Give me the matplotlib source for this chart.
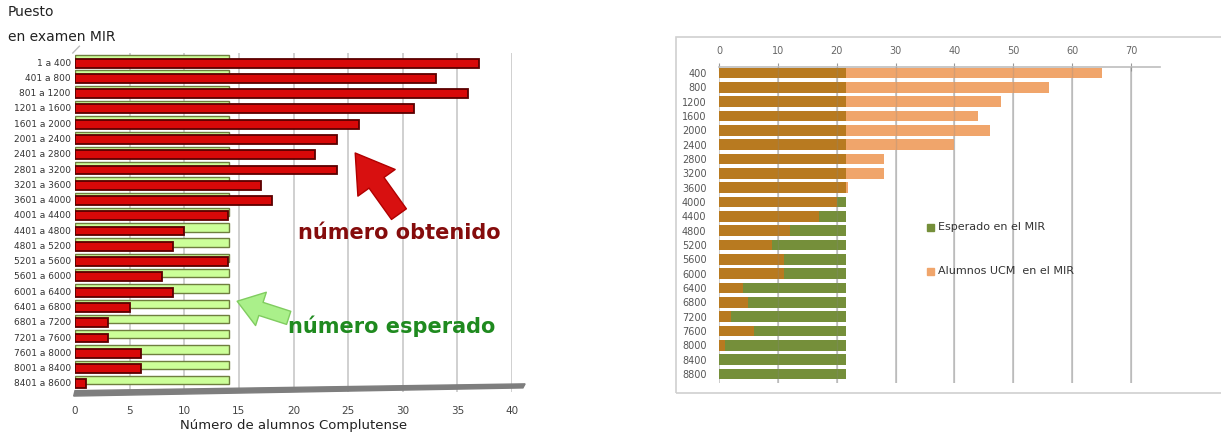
import matplotlib
matplotlib.use("Agg")
import matplotlib.pyplot as plt
from matplotlib.patches import Rectangle, Polygon
import numpy as np

# ---------------- data: left chart ----------------
rangos = ["1 a 400", "401 a 800", "801 a 1200", "1201 a 1600", "1601 a 2000",
          "2001 a 2400", "2401 a 2800", "2801 a 3200", "3201 a 3600", "3601 a 4000",
          "4001 a 4400", "4401 a 4800", "4801 a 5200", "5201 a 5600", "5601 a 6000",
          "6001 a 6400", "6401 a 6800", "6801 a 7200", "7201 a 7600", "7601 a 8000",
          "8001 a 8400", "8401 a 8600"]
obtenido = [37, 33, 36, 31, 26, 24, 22, 24, 17, 18, 14, 10, 9, 14, 8, 9, 5, 3, 3, 6, 6, 1]
esperado = [14.1] * 22
left_xticks = [0, 5, 10, 15, 20, 25, 30, 35, 40]

# ---------------- data: right chart ----------------
puestos = ["400", "800", "1200", "1600", "2000", "2400", "2800", "3200", "3600", "4000",
           "4400", "4800", "5200", "5600", "6000", "6400", "6800", "7200", "7600",
           "8000", "8400", "8800"]
esperado_mir = [21.6] * 22
alumnos_ucm = [65, 56, 48, 44, 46, 40, 28, 28, 22, 20, 17, 12, 9, 11, 11, 4, 5, 2, 6, 1, 0, 0]
right_xticks = [0, 10, 20, 30, 40, 50, 60, 70]

fig = plt.figure(figsize=(12.21, 4.36), dpi=100)
W, H = 1221, 436

def ax_rect(x0, y0, x1, y1):
    return [x0 / W, 1 - y1 / H, (x1 - x0) / W, (y1 - y0) / H]

# ================= LEFT =================
axL = fig.add_axes(ax_rect(75, 53, 512, 392))
n = len(rangos)
yL = np.arange(n)
axL.set_xlim(0, 40)
axL.set_ylim(n - 0.4, -0.6)
for x in left_xticks[1:]:
    axL.axvline(x, color="#c8c8c8", lw=1.2, zorder=0)
# expected (green) bars, slightly behind/above
axL.barh(yL - 0.18, esperado, height=0.55, color="#ccff99", edgecolor="#6f7f3f",
         lw=1.0, zorder=2)
# obtained (red) bars
axL.barh(yL + 0.06, obtenido, height=0.58, color="#d80808", edgecolor="#5a0000",
         lw=1.3, zorder=3)
for s in axL.spines.values():
    s.set_visible(False)
axL.set_yticks(yL)
axL.set_yticklabels(rangos, fontsize=6.5, color="#333333")
axL.set_xticks(left_xticks)
axL.set_xticklabels([str(v) for v in left_xticks], fontsize=7.5, color="#444444")
axL.tick_params(length=0, pad=3)
axL.tick_params(axis="x", pad=10)
axL.set_xlabel("Número de alumnos Complutense", fontsize=9.5, color="#222222", labelpad=2)
# floor
floor = Polygon([[0, 0.004], [1.03, 0.024], [1.025, 0.012], [-0.003, -0.012]],
                closed=True, transform=axL.transAxes, color="#7e7e7e", clip_on=False, zorder=1)
axL.add_patch(floor)
axL.plot([-0.005, 0.01], [1.0, 1.02], transform=axL.transAxes, color="#bbbbbb",
         lw=1, clip_on=False)

fig.text(8 / W, 1 - 12 / H, "Puesto", fontsize=10, color="#222222", va="center")
fig.text(8 / W, 1 - 37 / H, "en examen MIR", fontsize=10, color="#222222", va="center")

# annotations
axL.annotate("", xy=(25.5, 5.8), xytext=(29.8, 10.1),
             arrowprops=dict(arrowstyle="simple,head_length=1.2,head_width=1.5,tail_width=0.6",
                             fc="#d81010", ec="#b00000", mutation_scale=22), zorder=6)
axL.text(29.7, 11.2, "número obtenido", fontsize=15, fontweight="bold",
         color="#850c0c", ha="center", va="center", zorder=6)
axL.annotate("", xy=(14.6, 15.6), xytext=(19.8, 16.8),
             arrowprops=dict(arrowstyle="simple,head_length=1.0,head_width=1.4,tail_width=0.55",
                             fc="#aaf08a", ec="#80cc60", mutation_scale=18), zorder=6)
axL.text(29.0, 17.3, "número esperado", fontsize=15, fontweight="bold",
         color="#1f8a1f", ha="center", va="center", zorder=6)

# ================= RIGHT =================
frame = Rectangle((676 / W, 1 - 393 / H), (W - 676) / W + 0.01, (393 - 37) / H,
                  transform=fig.transFigure, fill=False, ec="#d0d0d0", lw=1.2)
fig.add_artist(frame)

axR = fig.add_axes(ax_rect(719, 67, 1160.4, 383))
m = len(puestos)
yR = np.arange(m)
axR.set_xlim(0, 75)
axR.set_ylim(m - 1 + 0.63, -0.42)
for x in right_xticks:
    axR.axvline(x, color="#c4c4c4", lw=1.2, zorder=0)

esp = np.array(esperado_mir)
ucm = np.array(alumnos_ucm)
overlap = np.minimum(esp, ucm)
bh = 0.76
axR.barh(yR, overlap, height=bh, color="#b87a20", lw=0, zorder=2)
axR.barh(yR, np.clip(ucm - esp, 0, None), left=esp, height=bh, color="#f0a56b", lw=0, zorder=2)
axR.barh(yR, np.clip(esp - ucm, 0, None), left=overlap, height=bh, color="#758f3a", lw=0, zorder=2)
for x in right_xticks[1:]:
    axR.axvline(x, color="#888888", lw=1.0, alpha=0.25, zorder=3)

for s in ["right", "bottom", "left"]:
    axR.spines[s].set_visible(False)
axR.spines["top"].set_color("#bdbdbd")
axR.spines["top"].set_linewidth(1.2)
axR.xaxis.tick_top()
axR.set_xticks(right_xticks)
axR.set_xticklabels([str(v) for v in right_xticks], fontsize=7, color="#666666")
axR.tick_params(axis="x", direction="inout", length=6, color="#999999", pad=5)
axR.set_yticks(yR)
axR.set_yticklabels(puestos, fontsize=7, color="#555555")
axR.tick_params(axis="y", length=0, pad=9)

# legend
lx, ly1, ly2 = 930, 227, 271
for ly, col, lab in [(ly1, "#758f3a", "Esperado en el MIR"), (ly2, "#f0a56b", "Alumnos UCM  en el MIR")]:
    fig.add_artist(Rectangle(((lx - 3) / W, 1 - (ly + 4) / H), 7 / W, 7 / H,
                             transform=fig.transFigure, color=col))
    fig.text((lx + 8) / W, 1 - ly / H, lab, fontsize=8, color="#333333", va="center")

fig.savefig("out.png", dpi=100, facecolor="white")
